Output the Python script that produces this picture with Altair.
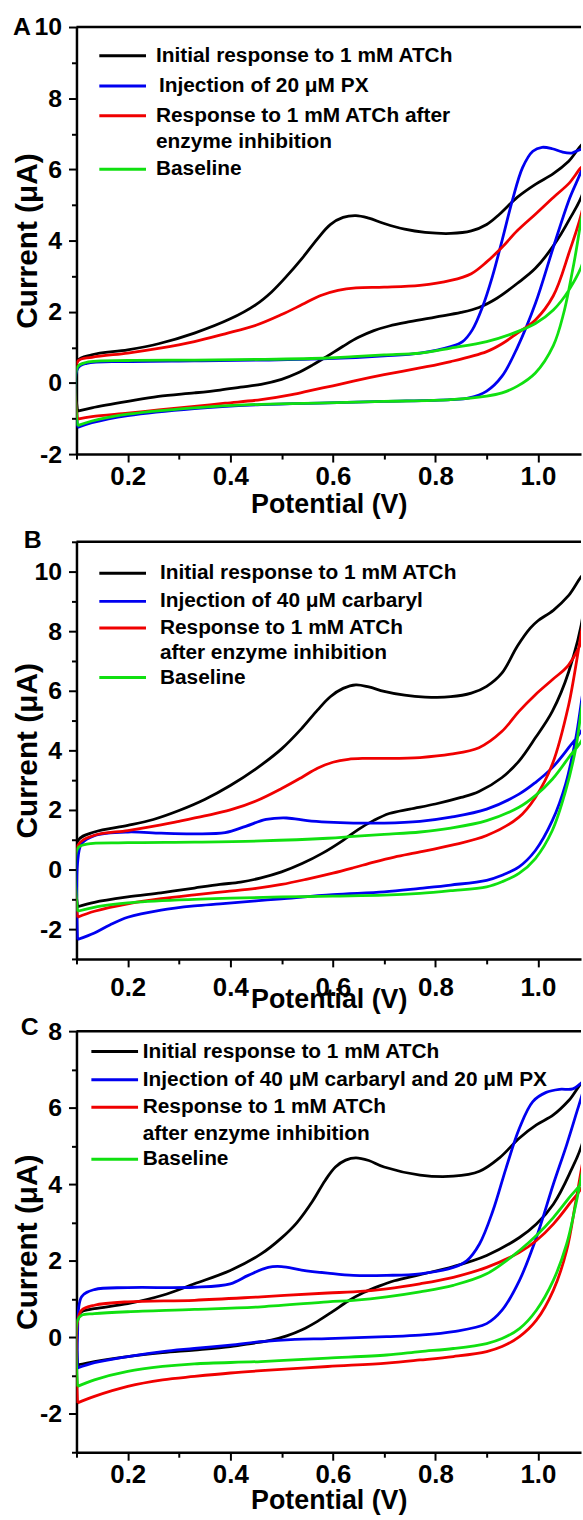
import altair as alt
import pandas as pd

FONT = "Liberation Sans"

# ---------------- cyclic voltammograms: (potential V, current uA) ----------------
# Panel A - PX
A_black_lower = [(0.102,-0.79),(0.13,-0.70),(0.20,-0.52),(0.26,-0.38),(0.33,-0.28),(0.38,-0.20),(0.42,-0.12),(0.46,-0.04),(0.50,0.10),(0.53,0.27),(0.56,0.50),(0.59,0.76),(0.62,1.03),(0.65,1.28),(0.68,1.47),(0.71,1.60),(0.75,1.72),(0.80,1.85),(0.85,1.98),(0.885,2.12),(0.92,2.38),(0.96,2.80),(0.995,3.22),(1.03,3.85),(1.06,4.56),(1.09,5.45)]
A_black_upper = [(0.102,0.62),(0.13,0.79),(0.20,0.93),(0.26,1.10),(0.33,1.40),(0.40,1.80),(0.45,2.20),(0.48,2.55),(0.51,3.00),(0.54,3.50),(0.57,4.05),(0.595,4.45),(0.62,4.65),(0.645,4.70),(0.67,4.63),(0.70,4.48),(0.74,4.32),(0.78,4.23),(0.83,4.20),(0.87,4.27),(0.90,4.45),(0.925,4.74),(0.96,5.22),(0.995,5.58),(1.03,5.88),(1.06,6.23),(1.09,6.72)]
A_blue_lower = [(0.102,-1.25),(0.13,-1.12),(0.20,-0.92),(0.33,-0.72),(0.46,-0.61),(0.59,-0.56),(0.70,-0.52),(0.83,-0.47),(0.866,-0.42),(0.90,-0.23),(0.93,0.19),(0.96,1.0),(0.995,2.23),(1.03,3.81),(1.06,5.12),(1.09,6.2)]
A_blue_upper = [(0.102,0.4),(0.12,0.55),(0.20,0.60),(0.33,0.62),(0.46,0.64),(0.59,0.68),(0.70,0.76),(0.77,0.84),(0.83,1.02),(0.853,1.16),(0.872,1.49),(0.892,2.14),(0.911,2.98),(0.93,4.0),(0.95,5.12),(0.97,6.05),(0.99,6.51),(1.008,6.62),(1.028,6.58),(1.047,6.49),(1.066,6.46),(1.09,6.58)]
A_red_lower = [(0.102,-1.02),(0.13,-0.95),(0.20,-0.85),(0.26,-0.76),(0.33,-0.66),(0.39,-0.57),(0.46,-0.47),(0.52,-0.33),(0.56,-0.2),(0.60,-0.08),(0.64,0.05),(0.70,0.23),(0.77,0.42),(0.83,0.60),(0.90,0.88),(0.93,1.1),(0.96,1.40),(0.995,1.77),(1.03,2.45),(1.06,3.63),(1.09,5.1)]
A_red_upper = [(0.102,0.6),(0.13,0.72),(0.20,0.84),(0.26,0.97),(0.33,1.16),(0.39,1.38),(0.45,1.62),(0.50,1.92),(0.54,2.20),(0.575,2.45),(0.61,2.60),(0.645,2.67),(0.70,2.69),(0.77,2.74),(0.83,2.88),(0.87,3.07),(0.90,3.40),(0.93,3.81),(0.96,4.28),(0.995,4.74),(1.03,5.21),(1.06,5.6),(1.09,6.1)]
A_green_lower = [(0.102,-1.2),(0.13,-1.07),(0.20,-0.88),(0.33,-0.70),(0.46,-0.60),(0.59,-0.56),(0.70,-0.52),(0.83,-0.47),(0.90,-0.37),(0.93,-0.28),(0.96,-0.09),(0.995,0.28),(1.03,1.05),(1.05,1.95),(1.07,3.35),(1.09,4.9)]
A_green_upper = [(0.102,0.45),(0.12,0.58),(0.20,0.63),(0.33,0.64),(0.46,0.66),(0.59,0.70),(0.64,0.74),(0.70,0.79),(0.77,0.84),(0.83,0.98),(0.90,1.16),(0.96,1.44),(0.995,1.67),(1.03,2.05),(1.06,2.60),(1.09,3.5)]

# Panel B - carbaryl
B_black_lower = [(0.102,-1.25),(0.135,-1.1),(0.20,-0.92),(0.265,-0.78),(0.33,-0.62),(0.38,-0.50),(0.42,-0.42),(0.46,-0.28),(0.50,-0.08),(0.54,0.20),(0.58,0.55),(0.62,0.98),(0.65,1.35),(0.68,1.65),(0.71,1.88),(0.75,2.03),(0.80,2.20),(0.85,2.42),(0.885,2.62),(0.93,3.09),(0.963,3.64),(0.995,4.42),(1.028,5.31),(1.06,6.64),(1.09,8.8)]
B_black_upper = [(0.102,0.95),(0.135,1.26),(0.20,1.48),(0.25,1.68),(0.30,1.98),(0.35,2.35),(0.40,2.82),(0.45,3.38),(0.50,4.05),(0.54,4.75),(0.57,5.35),(0.595,5.80),(0.62,6.08),(0.645,6.20),(0.67,6.13),(0.70,5.98),(0.74,5.85),(0.78,5.79),(0.83,5.80),(0.87,5.92),(0.90,6.15),(0.93,6.60),(0.96,7.50),(0.985,8.10),(1.00,8.35),(1.03,8.70),(1.06,9.20),(1.09,9.9)]
B_blue_lower = [(0.102,-2.35),(0.135,-2.13),(0.165,-1.86),(0.20,-1.6),(0.265,-1.36),(0.33,-1.22),(0.38,-1.15),(0.45,-1.05),(0.50,-0.98),(0.60,-0.84),(0.70,-0.75),(0.77,-0.63),(0.83,-0.52),(0.90,-0.36),(0.93,-0.19),(0.963,0.09),(0.995,0.64),(1.028,1.64),(1.054,2.87),(1.074,4.42),(1.09,6.1)]
B_blue_upper = [(0.102,0.2),(0.11,0.87),(0.135,1.14),(0.20,1.26),(0.265,1.22),(0.33,1.2),(0.39,1.24),(0.43,1.45),(0.47,1.68),(0.51,1.73),(0.55,1.64),(0.59,1.59),(0.64,1.56),(0.70,1.56),(0.77,1.62),(0.83,1.76),(0.90,2.03),(0.963,2.53),(0.995,2.92),(1.028,3.42),(1.06,4.09),(1.09,4.85)]
B_red_lower = [(0.102,-1.6),(0.135,-1.4),(0.20,-1.15),(0.265,-0.98),(0.33,-0.85),(0.39,-0.74),(0.45,-0.63),(0.50,-0.50),(0.55,-0.32),(0.60,-0.12),(0.64,0.06),(0.68,0.25),(0.72,0.42),(0.77,0.59),(0.83,0.81),(0.90,1.14),(0.963,1.76),(0.995,2.42),(1.028,3.53),(1.06,5.53),(1.09,8.4)]
B_red_upper = [(0.102,0.8),(0.135,1.15),(0.20,1.31),(0.265,1.5),(0.30,1.62),(0.35,1.80),(0.40,2.00),(0.45,2.30),(0.50,2.72),(0.54,3.10),(0.57,3.40),(0.60,3.60),(0.63,3.70),(0.66,3.73),(0.70,3.73),(0.77,3.76),(0.83,3.87),(0.885,4.09),(0.93,4.64),(0.963,5.31),(0.995,5.87),(1.028,6.37),(1.06,6.87),(1.09,7.9)]
B_green_lower = [(0.102,-1.4),(0.15,-1.22),(0.20,-1.12),(0.30,-1.02),(0.40,-0.96),(0.50,-0.92),(0.60,-0.89),(0.70,-0.86),(0.77,-0.8),(0.83,-0.71),(0.90,-0.58),(0.93,-0.41),(0.963,-0.13),(0.995,0.37),(1.028,1.31),(1.054,2.64),(1.074,4.09),(1.09,5.9)]
B_green_upper = [(0.102,0.7),(0.12,0.85),(0.20,0.90),(0.33,0.92),(0.46,0.96),(0.59,1.05),(0.64,1.11),(0.70,1.18),(0.77,1.26),(0.83,1.39),(0.90,1.64),(0.963,2.09),(0.995,2.48),(1.028,3.03),(1.06,3.76),(1.09,4.5)]

# Panel C - carbaryl + PX
C_black_lower = [(0.102,-0.72),(0.135,-0.63),(0.20,-0.50),(0.268,-0.40),(0.33,-0.33),(0.40,-0.24),(0.44,-0.16),(0.48,-0.07),(0.51,0.04),(0.54,0.20),(0.57,0.42),(0.60,0.68),(0.63,0.95),(0.66,1.17),(0.69,1.34),(0.72,1.48),(0.77,1.64),(0.835,1.85),(0.90,2.14),(0.964,2.61),(0.997,2.96),(1.03,3.48),(1.061,4.26),(1.09,5.25)]
C_black_upper = [(0.102,0.55),(0.11,0.67),(0.135,0.75),(0.20,0.88),(0.268,1.10),(0.33,1.40),(0.40,1.75),(0.46,2.18),(0.50,2.60),(0.53,3.00),(0.56,3.55),(0.585,4.10),(0.605,4.45),(0.625,4.63),(0.645,4.69),(0.67,4.62),(0.70,4.45),(0.77,4.24),(0.835,4.21),(0.886,4.34),(0.925,4.69),(0.964,5.21),(0.997,5.55),(1.03,5.81),(1.061,6.2),(1.09,6.68)]
C_blue_lower = [(0.102,-0.8),(0.135,-0.66),(0.20,-0.50),(0.268,-0.37),(0.33,-0.29),(0.40,-0.20),(0.46,-0.11),(0.526,-0.05),(0.59,-0.03),(0.705,0.02),(0.77,0.06),(0.835,0.15),(0.90,0.36),(0.93,0.71),(0.964,1.49),(0.997,2.61),(1.03,4.0),(1.056,5.03),(1.074,5.81),(1.09,6.55)]
C_blue_upper = [(0.102,0.02),(0.11,1.06),(0.135,1.25),(0.20,1.30),(0.33,1.31),(0.40,1.40),(0.435,1.62),(0.474,1.83),(0.50,1.85),(0.539,1.76),(0.59,1.68),(0.64,1.62),(0.705,1.62),(0.77,1.66),(0.835,1.83),(0.861,2.0),(0.886,2.44),(0.912,3.3),(0.938,4.43),(0.964,5.47),(0.99,6.16),(1.016,6.4),(1.042,6.48),(1.068,6.49),(1.09,6.68)]
C_red_lower = [(0.102,-1.71),(0.135,-1.54),(0.20,-1.28),(0.268,-1.11),(0.33,-1.02),(0.40,-0.93),(0.46,-0.87),(0.59,-0.76),(0.705,-0.67),(0.77,-0.59),(0.835,-0.5),(0.90,-0.37),(0.93,-0.24),(0.964,0.02),(0.997,0.45),(1.03,1.23),(1.056,2.27),(1.074,3.56),(1.09,4.7)]
C_red_upper = [(0.102,0.4),(0.11,0.71),(0.135,0.84),(0.20,0.93),(0.33,0.97),(0.46,1.06),(0.59,1.16),(0.64,1.19),(0.705,1.27),(0.77,1.4),(0.835,1.57),(0.90,1.83),(0.964,2.22),(0.997,2.53),(1.03,2.96),(1.061,3.48),(1.09,4.05)]
C_green_lower = [(0.102,-1.28),(0.135,-1.11),(0.20,-0.89),(0.268,-0.76),(0.33,-0.69),(0.46,-0.63),(0.59,-0.54),(0.705,-0.46),(0.77,-0.37),(0.835,-0.29),(0.90,-0.16),(0.93,-0.03),(0.964,0.23),(0.997,0.71),(1.03,1.49),(1.056,2.44),(1.074,3.48),(1.09,4.5)]
C_green_upper = [(0.102,0.45),(0.11,0.58),(0.135,0.62),(0.20,0.67),(0.33,0.73),(0.46,0.80),(0.59,0.93),(0.64,0.97),(0.705,1.06),(0.77,1.19),(0.835,1.36),(0.90,1.66),(0.964,2.27),(0.997,2.66),(1.03,3.13),(1.061,3.65),(1.09,4.15)]

# legend texts
A_labels = ["Initial response to 1 mM ATCh", "Injection of 20 \u03bcM PX",
            ["Response to 1 mM ATCh after", "enzyme inhibition"], "Baseline"]
B_labels = ["Initial response to 1 mM ATCh", "Injection of 40 \u03bcM carbaryl",
            ["Response to 1 mM ATCh", "after enzyme inhibition"], "Baseline"]
C_labels = ["Initial response to 1 mM ATCh", "Injection of 40 \u03bcM carbaryl and 20 \u03bcM PX",
            ["Response to 1 mM ATCh", "after enzyme inhibition"], "Baseline"]

SERIES = ["black", "blue", "red", "green"]
COLORS = {"black": "#000000", "blue": "#0000f0", "red": "#f00000", "green": "#10e010"}
X_TICKS = [0.1, 0.2, 0.3, 0.4, 0.5, 0.6, 0.7, 0.8, 0.9, 1.0]
X_DOMAIN = [0.1, 1.084]
W = 508


def loop_frame(curves):
    rows = []
    for s in SERIES:
        lower, upper = curves[s]
        pts = lower + upper[::-1] + [lower[0]]
        for k, (v, i) in enumerate(pts):
            rows.append({"s": s, "k": k, "V": v, "I": i})
    return pd.DataFrame(rows)


def panel(curves, ydom, height, letter, letter_xy, labels, leg_rows, leg_line, leg_text_x,
          xlab_pad, xtitle_y, leg_indent=None):
    df = loop_frame(curves)
    leg_indent = leg_indent or {}
    xaxis = alt.Axis(
        values=X_TICKS,
        labelExpr="round(datum.value*10) % 2 == 0 ? format(datum.value, '.1f') : ''",
        tickSize={"condition": {"test": "round(datum.value*10) % 2 == 0", "value": 8}, "value": 5},
        labelPadding=xlab_pad, labelFlush=False, labelOverlap=False,
        titleY=xtitle_y, titleBaseline="middle",
    )
    yaxis = alt.Axis(
        values=list(range(ydom[0], ydom[1] + 1)),
        labelExpr="datum.value % 2 == 0 ? '' + datum.value : ''",
        tickSize={"condition": {"test": "datum.value % 2 == 0", "value": 8}, "value": 5},
        labelPadding=7, labelFlush=False, labelOverlap=False,
        titleX=-49, titleY=height / 2, titleBaseline="middle", titleAlign="center",
    )
    base = alt.Chart(df).encode(
        x=alt.X("V:Q", title="Potential (V)",
                scale=alt.Scale(domain=X_DOMAIN, nice=False, zero=False), axis=xaxis),
        y=alt.Y("I:Q", title="Current (\u03bcA)",
                scale=alt.Scale(domain=list(ydom), nice=False, zero=False), axis=yaxis),
        order="k:Q",
    )
    layers = [
        base.transform_filter(alt.datum.s == s).mark_line(
            color=COLORS[s], strokeWidth=2.8, clip=True, interpolate="catmull-rom")
        for s in SERIES
    ]

    dummy = alt.Chart(pd.DataFrame({"d": [0]}))
    # top frame line
    layers.append(dummy.mark_rule(color="black", strokeWidth=2.5).encode(
        x=alt.value(0), x2=alt.value(W), y=alt.value(0)))
    # panel letter
    layers.append(dummy.mark_text(font=FONT, fontSize=25, fontWeight="bold", color="black").encode(
        x=alt.value(letter_xy[0]), y=alt.value(letter_xy[1]), text=alt.value(letter)))
    # legend
    r = 0
    for s, lab in zip(SERIES, labels):
        ly = leg_rows[r]
        layers.append(dummy.mark_rule(color=COLORS[s], strokeWidth=3).encode(
            x=alt.value(leg_line[0]), x2=alt.value(leg_line[1]), y=alt.value(ly)))
        lines = lab if isinstance(lab, list) else [lab]
        for ln in lines:
            tx = leg_text_x + leg_indent.get(r, 0)
            layers.append(dummy.mark_text(font=FONT, fontSize=21, fontWeight="bold",
                                          align="left", baseline="middle", color="black").encode(
                x=alt.value(tx), y=alt.value(leg_rows[r]), text=alt.value(ln)))
            r += 1
    return alt.layer(*layers).properties(width=W, height=height)


pA = panel({"black": (A_black_lower, A_black_upper), "blue": (A_blue_lower, A_blue_upper),
            "red": (A_red_lower, A_red_upper), "green": (A_green_lower, A_green_upper)},
           (-2, 10), 430, "A", (-55, 0), A_labels, [29, 59.3, 89.3, 116.3, 143.3],
           (23, 70), 80, 2, 51, leg_indent={1: 3})
pB = panel({"black": (B_black_lower, B_black_upper), "blue": (B_blue_lower, B_blue_upper),
            "red": (B_red_lower, B_red_upper), "green": (B_green_lower, B_green_upper)},
           (-3, 11), 420, "B", (-44, -1.5), B_labels, [31.7, 60, 86.7, 111.7, 136.7],
           (23, 70), 84, 8, 41)
pC = panel({"black": (C_black_lower, C_black_upper), "blue": (C_blue_lower, C_blue_upper),
            "red": (C_red_lower, C_red_upper), "green": (C_green_lower, C_green_upper)},
           (-3, 8), 424, "C", (-47, -4), C_labels, [20.6, 49, 76.6, 103.3, 129],
           (15, 62), 66.7, 1, 49)

lower_pair = alt.vconcat(pB, pC, spacing=72.7, bounds="flush")
chart = alt.vconcat(pA, lower_pair, spacing=88.3, bounds="flush").properties(
    padding={"left": 12, "top": 10, "right": 0, "bottom": 0}
).configure_view(stroke=None).configure_axis(
    grid=False,
    domainColor="black", domainWidth=2.5,
    tickColor="black", tickWidth=2,
    labelFont=FONT, labelFontWeight="bold", labelColor="black",
    titleFont=FONT, titleFontWeight="bold", titleColor="black",
).configure_axisX(labelFontSize=26, titleFontSize=27).configure_axisY(
    labelFontSize=25, titleFontSize=30)

chart.save("out.html", embed_options={"renderer": "svg", "actions": False})
